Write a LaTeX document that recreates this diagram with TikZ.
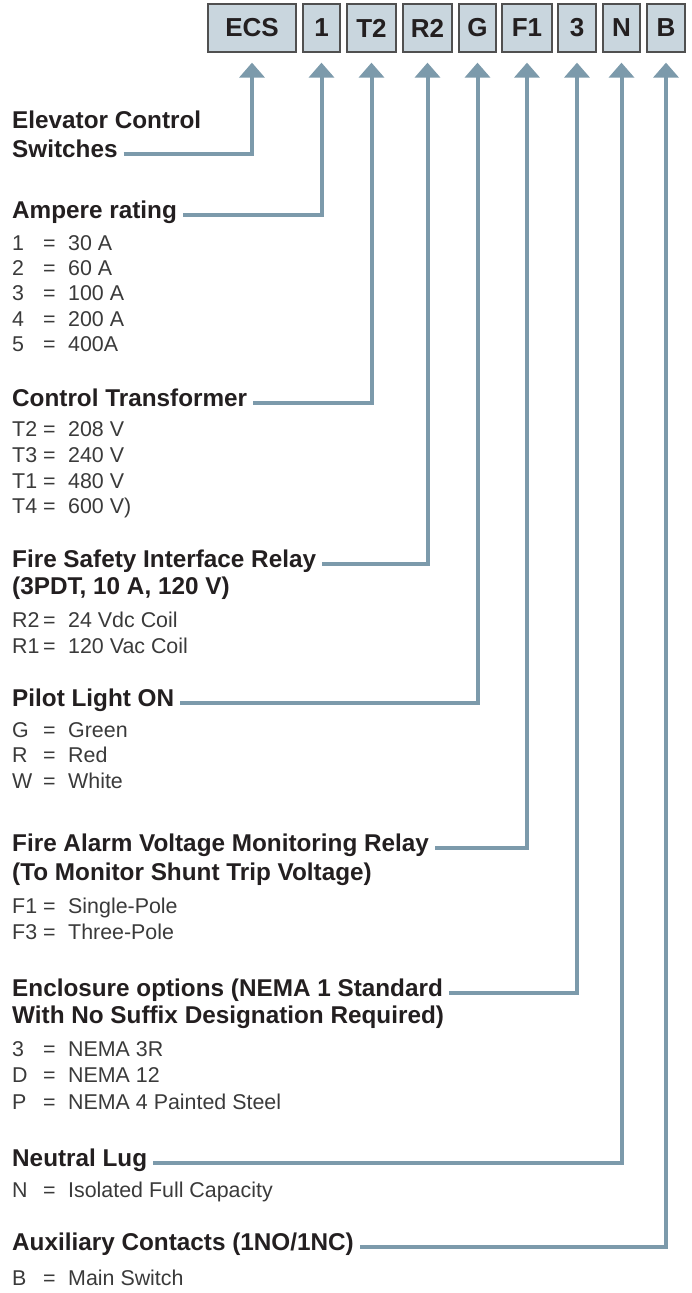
\documentclass[tikz,border=0pt]{standalone}
\usepackage{fontspec}
\setmainfont{Liberation Sans}
\usetikzlibrary{arrows.meta}
\definecolor{linec}{HTML}{7C9AAB}
\definecolor{boxfill}{HTML}{C9D6DE}
\definecolor{boxline}{HTML}{505050}
\definecolor{ink}{HTML}{231F20}
\definecolor{itemink}{HTML}{3A3A3A}
\newcommand{\optrow}[2]{\makebox[31pt][l]{#1}\makebox[25pt][l]{=}#2}
\tikzset{
  codebox/.style={draw=boxline, line width=1.3pt, fill=boxfill, minimum height=48pt,
    inner sep=0pt, text=ink, font=\fontsize{26}{30}\selectfont\bfseries},
  head/.style={anchor=west, inner sep=0pt, text height=0.716em, text depth=0pt,
    text=ink, font=\fontsize{24.3}{29}\selectfont\bfseries},
  item/.style={anchor=west, inner sep=0pt, text height=0.716em, text depth=0pt,
    text=itemink, font=\fontsize{21.4}{26}\selectfont},
  conn/.style={draw=linec, line width=4pt, shorten <=6pt, shorten >=10pt,
    -{Triangle[width=25pt,length=15pt]}, line join=miter}
}
\begin{document}
\begin{tikzpicture}[x=1pt,y=-1pt]
\useasboundingbox (0,0) rectangle (691,1293);
% code boxes
\node[codebox, minimum width=88pt] (bECS) at (252,28) {ECS};
\node[codebox, minimum width=37pt] (b1) at (321.5,28) {1};
\node[codebox, minimum width=49pt] (bT2) at (371.5,28) {T2};
\node[codebox, minimum width=49pt] (bR2) at (427.5,28) {R2};
\node[codebox, minimum width=37pt] (bG) at (477.5,28) {G};
\node[codebox, minimum width=50pt] (bF1) at (527,28) {F1};
\node[codebox, minimum width=38pt] (b3) at (577,28) {3};
\node[codebox, minimum width=37pt] (bN) at (621.5,28) {N};
\node[codebox, minimum width=38pt] (bB) at (666,28) {B};
% headings
\node[head] (hECSa) at (12,125) {Elevator Control};
\node[head] (hECS) at (12,154) {Switches};
\node[head] (hAmp) at (12,215) {Ampere rating};
\node[head] (hCT) at (12,403) {Control Transformer};
\node[head] (hFS) at (12,564) {Fire Safety Interface Relay};
\node[head] (hFSb) at (12,591) {(3PDT, 10 A, 120 V)};
\node[head] (hPL) at (12,703) {Pilot Light ON};
\node[head] (hFA) at (12,848) {Fire Alarm Voltage Monitoring Relay};
\node[head] (hFAb) at (12,877) {(To Monitor Shunt Trip Voltage)};
\node[head] (hEN) at (12,993) {Enclosure options (NEMA 1 Standard};
\node[head] (hENb) at (12,1020) {With No Suffix Designation Required)};
\node[head] (hNL) at (12,1163) {Neutral Lug};
\node[head] (hAC) at (12,1247) {Auxiliary Contacts (1NO/1NC)};
% items
\node[item] (a1) at (12,247) {\optrow{1}{30 A}};
\node[item] (a2) at (12,272) {\optrow{2}{60 A}};
\node[item] (a3) at (12,297) {\optrow{3}{100 A}};
\node[item] (a4) at (12,323) {\optrow{4}{200 A}};
\node[item] (a5) at (12,348) {\optrow{5}{400A}};
\node[item] (t2) at (12,433) {\optrow{T2}{208 V}};
\node[item] (t3) at (12,459) {\optrow{T3}{240 V}};
\node[item] (t1) at (12,485) {\optrow{T1}{480 V}};
\node[item] (t4) at (12,510) {\optrow{T4}{600 V)}};
\node[item] (r2) at (12,624) {\optrow{R2}{24 Vdc Coil}};
\node[item] (r1) at (12,650) {\optrow{R1}{120 Vac Coil}};
\node[item] (g) at (12,734) {\optrow{G}{Green}};
\node[item] (r) at (12,759) {\optrow{R}{Red}};
\node[item] (w) at (12,785) {\optrow{W}{White}};
\node[item] (f1) at (12,910) {\optrow{F1}{Single-Pole}};
\node[item] (f3) at (12,936) {\optrow{F3}{Three-Pole}};
\node[item] (e3) at (12,1053) {\optrow{3}{NEMA 3R}};
\node[item] (ed) at (12,1079) {\optrow{D}{NEMA 12}};
\node[item] (ep) at (12,1106) {\optrow{P}{NEMA 4 Painted Steel}};
\node[item] (nn) at (12,1194) {\optrow{N}{Isolated Full Capacity}};
\node[item] (bb) at (12,1282) {\optrow{B}{Main Switch}};
% connectors
\draw[conn] (hECS.east) -| (bECS.south);
\draw[conn] (hAmp.east) -| (b1.south);
\draw[conn] (hCT.east) -| (bT2.south);
\draw[conn] (hFS.east) -| (bR2.south);
\draw[conn] (hPL.east) -| (bG.south);
\draw[conn] (hFA.east) -| (bF1.south);
\draw[conn] (hEN.east) -| (b3.south);
\draw[conn] (hNL.east) -| (bN.south);
\draw[conn] (hAC.east) -| (bB.south);
\end{tikzpicture}
\end{document}
